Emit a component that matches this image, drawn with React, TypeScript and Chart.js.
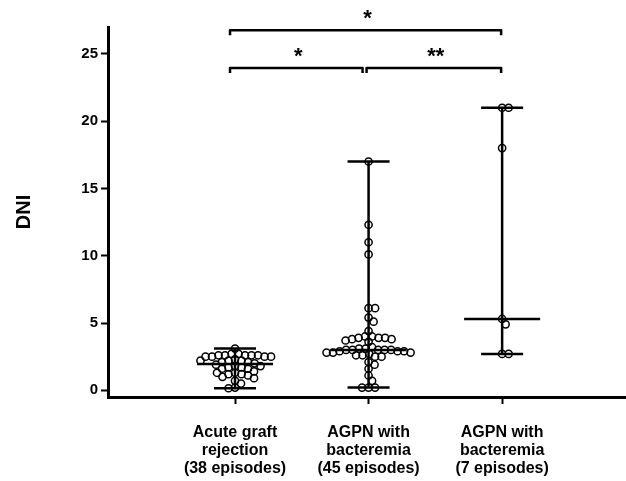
import React, { useEffect, useRef } from 'react';
import { Chart, registerables } from 'chart.js';

Chart.register(...registerables);

// ---- data ----
const categories: string[][] = [
  ['Acute graft', 'rejection', '(38 episodes)'],
  ['AGPN with', 'bacteremia', '(45 episodes)'],
  ['AGPN with', 'bacteremia', '(7 episodes)'],
];

const rejection = [
  3.1, 2.7, 2.7, 2.6, 2.6, 2.6, 2.6, 2.6, 2.5, 2.5, 2.5, 2.5, 2.3, 2.2, 2.2, 2.2,
  2.1, 2.1, 2.0, 1.9, 1.8, 1.8, 1.7, 1.7, 1.6, 1.6, 1.4, 1.3, 1.3, 1.2, 1.2, 1.1,
  1.0, 0.9, 0.7, 0.5, 0.2, 0.15,
];

const bacteremia45 = [
  17.0, 12.3, 11.0, 10.1, 6.1, 6.1, 5.4, 5.1, 4.4, 4.0, 4.0, 3.9, 3.9, 3.9, 3.8,
  3.8, 3.7, 3.6, 3.2, 3.1, 3.1, 3.0, 3.0, 3.0, 3.0, 3.0, 2.9, 2.9, 2.9, 2.8, 2.8,
  2.8, 2.7, 2.6, 2.6, 2.5, 2.5, 2.1, 1.9, 1.6, 1.1, 0.7, 0.2, 0.2, 0.2,
];

const bacteremia7 = [21.0, 21.0, 18.0, 5.3, 4.9, 2.7, 2.7];

const yTicks = [0, 5, 10, 15, 20, 25];

const brackets = [
  { from: 1, to: 3, level: 26.75, label: '*' },
  { from: 1, to: 2, level: 23.95, label: '*' },
  { from: 2, to: 3, level: 23.95, label: '**' },
];

// ---- layout constants ----
const X_MIN = 0.049;
const X_MAX = 3.92;
const PX_PER_X = 133.5;
const PX_PER_Y = 13.45;
const DOT_GAP = 6.4;
const CAP_HALF = 21 / PX_PER_X;
const MED_HALF = 38 / PX_PER_X;
const FONT = "'Liberation Sans', Arial, sans-serif";

function median(vals: number[]) {
  const s = [...vals].sort((a, b) => a - b);
  const n = s.length;
  return n % 2 ? s[(n - 1) / 2] : (s[n / 2 - 1] + s[n / 2]) / 2;
}

function swarm(vals: number[], center: number) {
  const placed: { px: number; py: number }[] = [];
  const sorted = [...vals].sort((a, b) => b - a);
  const out: { x: number; y: number }[] = [];
  for (const v of sorted) {
    const py = v * PX_PER_Y;
    let off = 0;
    for (let k = 0; k < 400; k++) {
      const cand = k === 0 ? 0 : (k % 2 ? 1 : -1) * Math.ceil(k / 2) * 0.5;
      const ok = placed.every((p) => Math.hypot(p.px - cand, p.py - py) >= DOT_GAP);
      if (ok) {
        off = cand;
        break;
      }
    }
    placed.push({ px: off, py });
    out.push({ x: center + off / PX_PER_X, y: v });
  }
  return out;
}

const bracketPlugin = {
  id: 'sigBrackets',
  afterDatasetsDraw(chart: any) {
    const { ctx } = chart;
    const xs = chart.scales.x;
    const ys = chart.scales.y;
    ctx.save();
    ctx.strokeStyle = '#000';
    ctx.fillStyle = '#000';
    ctx.lineWidth = 2.5;
    ctx.lineJoin = 'round';
    ctx.font = `bold 22px ${FONT}`;
    ctx.textAlign = 'center';
    ctx.textBaseline = 'alphabetic';
    for (const b of brackets) {
      const nLeft = brackets.some((o) => o !== b && o.level === b.level && o.to === b.from);
      const nRight = brackets.some((o) => o !== b && o.level === b.level && o.from === b.to);
      const x1 = xs.getPixelForValue(b.from) + (nLeft ? -2 : -5);
      const x2 = xs.getPixelForValue(b.to) + (nRight ? -6 : -1);
      const yb = ys.getPixelForValue(b.level);
      ctx.beginPath();
      ctx.moveTo(x1, yb + 5);
      ctx.lineTo(x1, yb);
      ctx.lineTo(x2, yb);
      ctx.lineTo(x2, yb + 5);
      ctx.stroke();
      ctx.fillText(b.label, (x1 + x2) / 2 + 2, yb - 5.5);
    }
    ctx.restore();
  },
};

export default function App() {
  const ref = useRef<HTMLCanvasElement>(null);

  useEffect(() => {
    const canvas = ref.current;
    if (!canvas) return;
    const groups = [rejection, bacteremia45, bacteremia7];
    const datasets: any[] = [];
    const seg = (pts: { x: number; y: number }[]) => ({
      data: pts,
      showLine: true,
      borderColor: '#000',
      borderWidth: 2.5,
      pointRadius: 0,
      pointHoverRadius: 0,
      fill: false,
    });
    groups.forEach((vals, i) => {
      const c = i + 1;
      const lo = Math.min(...vals);
      const hi = Math.max(...vals);
      const med = median(vals);
      datasets.push(seg([{ x: c, y: lo }, { x: c, y: hi }]));
      datasets.push(seg([{ x: c - CAP_HALF, y: hi }, { x: c + CAP_HALF, y: hi }]));
      datasets.push(seg([{ x: c - CAP_HALF, y: lo }, { x: c + CAP_HALF, y: lo }]));
      datasets.push(seg([{ x: c - MED_HALF, y: med }, { x: c + MED_HALF, y: med }]));
      datasets.push({
        data: swarm(vals, c),
        showLine: false,
        pointRadius: 3.6,
        pointHoverRadius: 3.6,
        pointBorderWidth: 1.5,
        borderColor: '#000',
        backgroundColor: 'rgba(0,0,0,0)',
      });
    });

    const chart = new Chart(canvas, {
      type: 'scatter',
      data: { datasets },
      plugins: [bracketPlugin],
      options: {
        animation: false,
        responsive: false,
        devicePixelRatio: 1,
        events: [],
        layout: { autoPadding: false, padding: { top: 27, right: 1, left: 0, bottom: 0 } },
        plugins: { legend: { display: false }, tooltip: { enabled: false } },
        scales: {
          x: {
            type: 'linear',
            min: X_MIN,
            max: X_MAX,
            afterBuildTicks: (s: any) => {
              s.ticks = categories.map((_, i) => ({ value: i + 1 }));
            },
            afterFit: (s: any) => {
              s.height = 84;
              s.paddingLeft = 0;
              s.paddingRight = 0;
            },
            ticks: {
              autoSkip: false,
              maxRotation: 0,
              minRotation: 0,
              color: '#000',
              padding: 19,
              font: { family: FONT, size: 16, weight: 'bold', lineHeight: 1.15 },
              callback: (v: any) => categories[Math.round(v) - 1] ?? '',
            },
            grid: {
              display: true,
              drawOnChartArea: false,
              drawTicks: true,
              tickLength: 7,
              tickColor: '#000',
              tickWidth: 2,
            },
            border: { display: true, color: '#000', width: 3 },
          },
          y: {
            type: 'linear',
            min: -0.5,
            max: 27,
            afterBuildTicks: (s: any) => {
              s.ticks = yTicks.map((v) => ({ value: v }));
            },
            afterFit: (s: any) => {
              s.width = 108;
            },
            ticks: {
              autoSkip: false,
              color: '#000',
              padding: 3,
              font: { family: FONT, size: 15, weight: 'bold' },
            },
            grid: {
              display: true,
              drawOnChartArea: false,
              drawTicks: true,
              tickLength: 7,
              tickColor: '#000',
              tickWidth: 2,
            },
            border: { display: true, color: '#000', width: 3 },
            title: {
              display: true,
              text: 'DNI',
              color: '#000',
              font: { family: FONT, size: 20, weight: 'bold' },
              padding: { top: 12, bottom: 0 },
            },
          },
        },
      } as any,
    });
    return () => chart.destroy();
  }, []);

  return (
    <div style={{ position: 'fixed', left: 0, top: 0, width: 626, height: 481, background: '#fff' }}>
      <canvas ref={ref} width={626} height={481} style={{ display: 'block' }} />
    </div>
  );
}
